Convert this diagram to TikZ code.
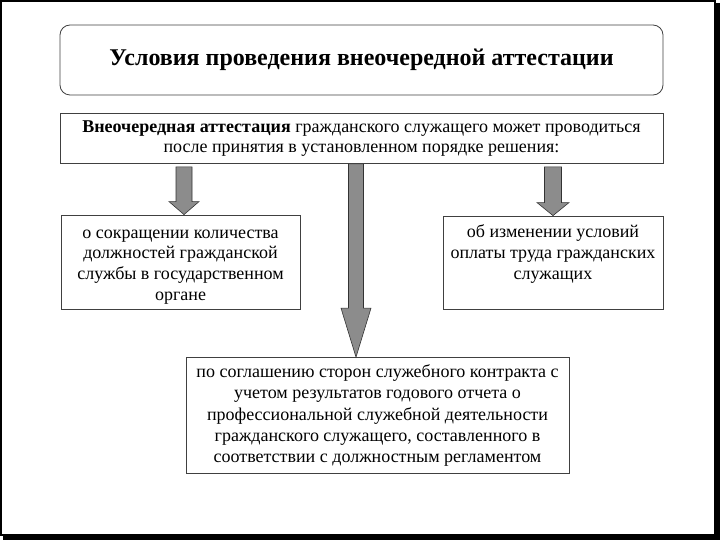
\documentclass[tikz,border=0pt]{standalone}
\usepackage{fontspec}
\setmainfont{Liberation Serif}
\usetikzlibrary{calc}
\tikzset{
  box/.style={draw=black!75, line width=0.8pt, fill=white, inner sep=0pt, align=center},
  blockarrow/.style={draw=black!80, line width=0.6pt, fill=black!45},
}
\newcommand\blockarr[5]{%
  \path[blockarrow] let \p1=(#1), \p2=(#2) in
    (\x1-#3,\y1) -- (\x1+#3,\y1) -- (\x1+#3,\y2+#5) -- (\x1+#4,\y2+#5) -- (\x2,\y2)
    -- (\x1-#4,\y2+#5) -- (\x1-#3,\y2+#5) -- cycle;}
\begin{document}
\begin{tikzpicture}[x=1pt,y=-1pt]
\useasboundingbox (0,0) rectangle (720,540);
% outer frame with shadow
\fill[black] (714,3) rectangle (720,540);
\fill[black] (3,534) rectangle (720,540);
\draw[black, line width=1.2pt] (1,1) rectangle (715,535);

\node[box, rounded corners=10pt, minimum width=603pt, minimum height=70pt,
      font=\fontsize{24}{28}\selectfont\bfseries] (title) at (361.5,60)
  {Условия проведения внеочередной аттестации};

\node[box, minimum width=603pt, minimum height=50pt, font=\fontsize{18}{20}\selectfont] (top) at (361.5,138.5)
  {\textbf{Внеочередная аттестация} гражданского служащего может проводиться\\
   после принятия в установленном порядке решения:};

\node[box, minimum width=239pt, minimum height=94pt] (left) at (180.5,262)
  {\parbox[t][94pt][t]{235pt}{\centering\fontsize{18}{20.7}\selectfont
   \rule{0pt}{23pt}о сокращении количества\\ должностей гражданской\\ службы в государственном\\ органе}};

\node[box, minimum width=220pt, minimum height=93pt] (right) at (553,262.5)
  {\parbox[t][93pt][t]{216pt}{\centering\fontsize{18}{21.3}\selectfont
   \rule{0pt}{21pt}об изменении условий\\ оплаты труда гражданских\\ служащих}};

\node[box, minimum width=383pt, minimum height=116pt, font=\fontsize{18}{21.3}\selectfont] (bottom) at (377.5,415.5)
  {по соглашению сторон служебного контракта с\\
   учетом результатов годового отчета о\\ профессиональной служебной деятельности\\
   гражданского служащего, составленного в\\ соответствии с должностным регламентом};

% arrows
\coordinate (a1s) at ($(top.south)+(-177.5,3)$);
\coordinate (a1e) at (a1s |- left.north);
\coordinate (a2s) at ($(top.south)+(-5.5,0)$);
\coordinate (a2e) at (a2s |- bottom.north);
\coordinate (a3s) at ($(top.south)+(191.5,3)$);
\coordinate (a3e) at (a3s |- right.north);
\blockarr{a1s}{a1e}{8pt}{15pt}{13pt}
\blockarr{a2s}{a2e}{7.5pt}{15pt}{49pt}
\blockarr{a3s}{a3e}{8.5pt}{16pt}{13pt}
\end{tikzpicture}
\end{document}
